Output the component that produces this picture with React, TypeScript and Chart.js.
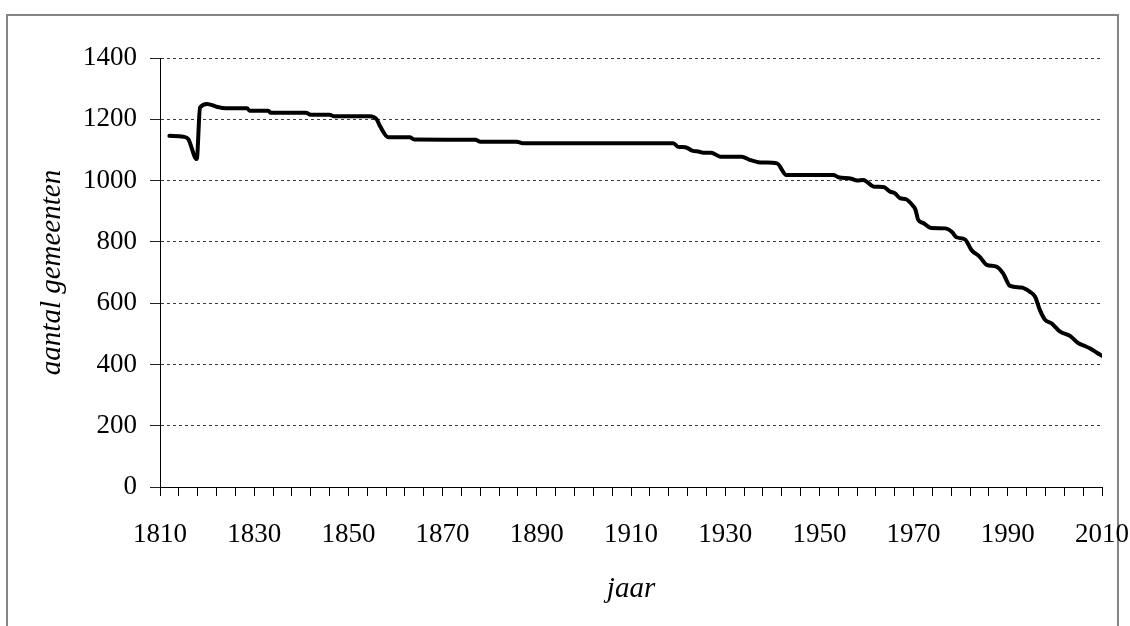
import React, { useEffect, useRef } from "react";
import { Chart, registerables } from "chart.js";

Chart.register(...registerables);

const years: number[] = [
  1812, 1815, 1816, 1817.8, 1818.5, 1820, 1822, 1824, 1828.5, 1829, 1833, 1833.5,
  1841, 1842, 1846, 1847, 1854.5, 1856, 1856.7, 1858.5, 1863, 1864, 1877, 1878,
  1885.7, 1887, 1919, 1920, 1921.5, 1923, 1924.5, 1925.3, 1927, 1929, 1933.5,
  1935.3, 1937, 1938.5, 1941, 1943, 1953, 1954, 1956.8, 1958, 1959.3, 1961.6,
  1963.6, 1965, 1966, 1967.1, 1968.4, 1969.9, 1970.4, 1971, 1972, 1973.8, 1976.7,
  1978.1, 1979.1, 1980.9, 1982.3, 1984, 1985.5, 1987.6, 1989, 1990.5, 1992.9,
  1994.7, 1995.8, 1996.8, 1997.9, 1999.3, 2001.1, 2003.2, 2005, 2006.4, 2007.5,
  2008.9, 2010,
];
const municipalities: number[] = [
  1146, 1143, 1135, 1070, 1238, 1250, 1241, 1236, 1236, 1228, 1228, 1221,
  1221, 1215, 1215, 1210, 1210, 1200, 1178, 1141, 1141, 1134, 1133, 1127,
  1127, 1122, 1122, 1110, 1109, 1098, 1094, 1091, 1091, 1078, 1078,
  1067, 1060, 1059, 1056, 1018, 1018, 1011, 1006, 1000, 1002, 980,
  979, 964, 959, 943, 939, 917, 905, 871, 862, 845, 844,
  833, 815, 808, 773, 752, 725, 719, 697, 656, 651,
  637, 621, 578, 546, 534, 507, 493, 469, 460, 452,
  438, 428,
];

const xMin = 1810;
const xMax = 2010;
const xTickStep = 4;
const xLabelStep = 20;
const yMin = 0;
const yMax = 1400;
const yTickStep = 200;
const xTitle = "jaar";
const yTitle = "aantal gemeenten";

const W = 1130;
const H = 626;

const framePlugin = {
  id: "frame",
  beforeDraw(chart: any) {
    const ctx = chart.ctx;
    ctx.save();
    ctx.fillStyle = "#ffffff";
    ctx.fillRect(0, 0, W, H);
    ctx.strokeStyle = "#858585";
    ctx.lineWidth = 2;
    ctx.strokeRect(7, 15, 1111, 700);
    ctx.restore();
  },
};

export default function App() {
  const ref = useRef<HTMLCanvasElement | null>(null);

  useEffect(() => {
    if (!ref.current) return;
    const serif = "'Liberation Serif', 'Times New Roman', serif";
    const chart = new Chart(ref.current, {
      type: "line",
      data: {
        datasets: [
          {
            data: years.map((yr, i) => ({ x: yr, y: municipalities[i] })),
            borderColor: "#000000",
            borderWidth: 4,
            borderJoinStyle: "round",
            borderCapStyle: "round",
            pointRadius: 0,
            cubicInterpolationMode: "monotone",
            fill: false,
          },
        ],
      },
      options: {
        animation: false,
        responsive: false,
        devicePixelRatio: 1,
        layout: { padding: { left: 0, top: 58, right: 0, bottom: 0 } },
        plugins: {
          legend: { display: false },
          tooltip: { enabled: false },
        },
        scales: {
          x: {
            type: "linear",
            min: xMin,
            max: xMax,
            afterFit: (s: any) => {
              s.height = H - 487;
              s.paddingLeft = 0;
              s.paddingRight = 28;
            },
            ticks: {
              stepSize: xTickStep,
              autoSkip: false,
              maxRotation: 0,
              minRotation: 0,
              padding: 23,
              color: "#000000",
              font: { family: serif, size: 27 },
              callback: (v: any) => ((v - xMin) % xLabelStep === 0 ? String(v) : ""),
            },
            grid: {
              drawOnChartArea: false,
              drawTicks: true,
              tickLength: 9,
              tickColor: "#000000",
              tickWidth: 1,
            },
            border: { display: true, color: "#000000", width: 1 },
            title: {
              display: true,
              text: xTitle,
              color: "#000000",
              font: { family: serif, size: 29, style: "italic" },
              padding: { top: 0, bottom: 19 },
            },
          },
          y: {
            type: "linear",
            min: yMin,
            max: yMax,
            afterFit: (s: any) => {
              s.width = 160;
            },
            ticks: {
              stepSize: yTickStep,
              padding: 13,
              color: "#000000",
              font: { family: serif, size: 27 },
              callback: (v: any) => String(v),
            },
            grid: {
              drawOnChartArea: true,
              drawTicks: true,
              tickLength: 10,
              color: "#3a3a3a",
              tickColor: "#222222",
              lineWidth: 1,
              tickBorderDash: [],
            },
            border: { display: true, color: "#000000", width: 1, dash: [3, 3] },
            title: {
              display: true,
              text: yTitle,
              color: "#000000",
              font: { family: serif, size: 29, style: "italic" },
              padding: { top: 35, bottom: 0 },
            },
          },
        },
      },
      plugins: [framePlugin],
    } as any);
    return () => chart.destroy();
  }, []);

  return (
    <div style={{ position: "absolute", left: 0, top: 0, width: W, height: H }}>
      <canvas ref={ref} width={W} height={H} style={{ display: "block" }} />
    </div>
  );
}
